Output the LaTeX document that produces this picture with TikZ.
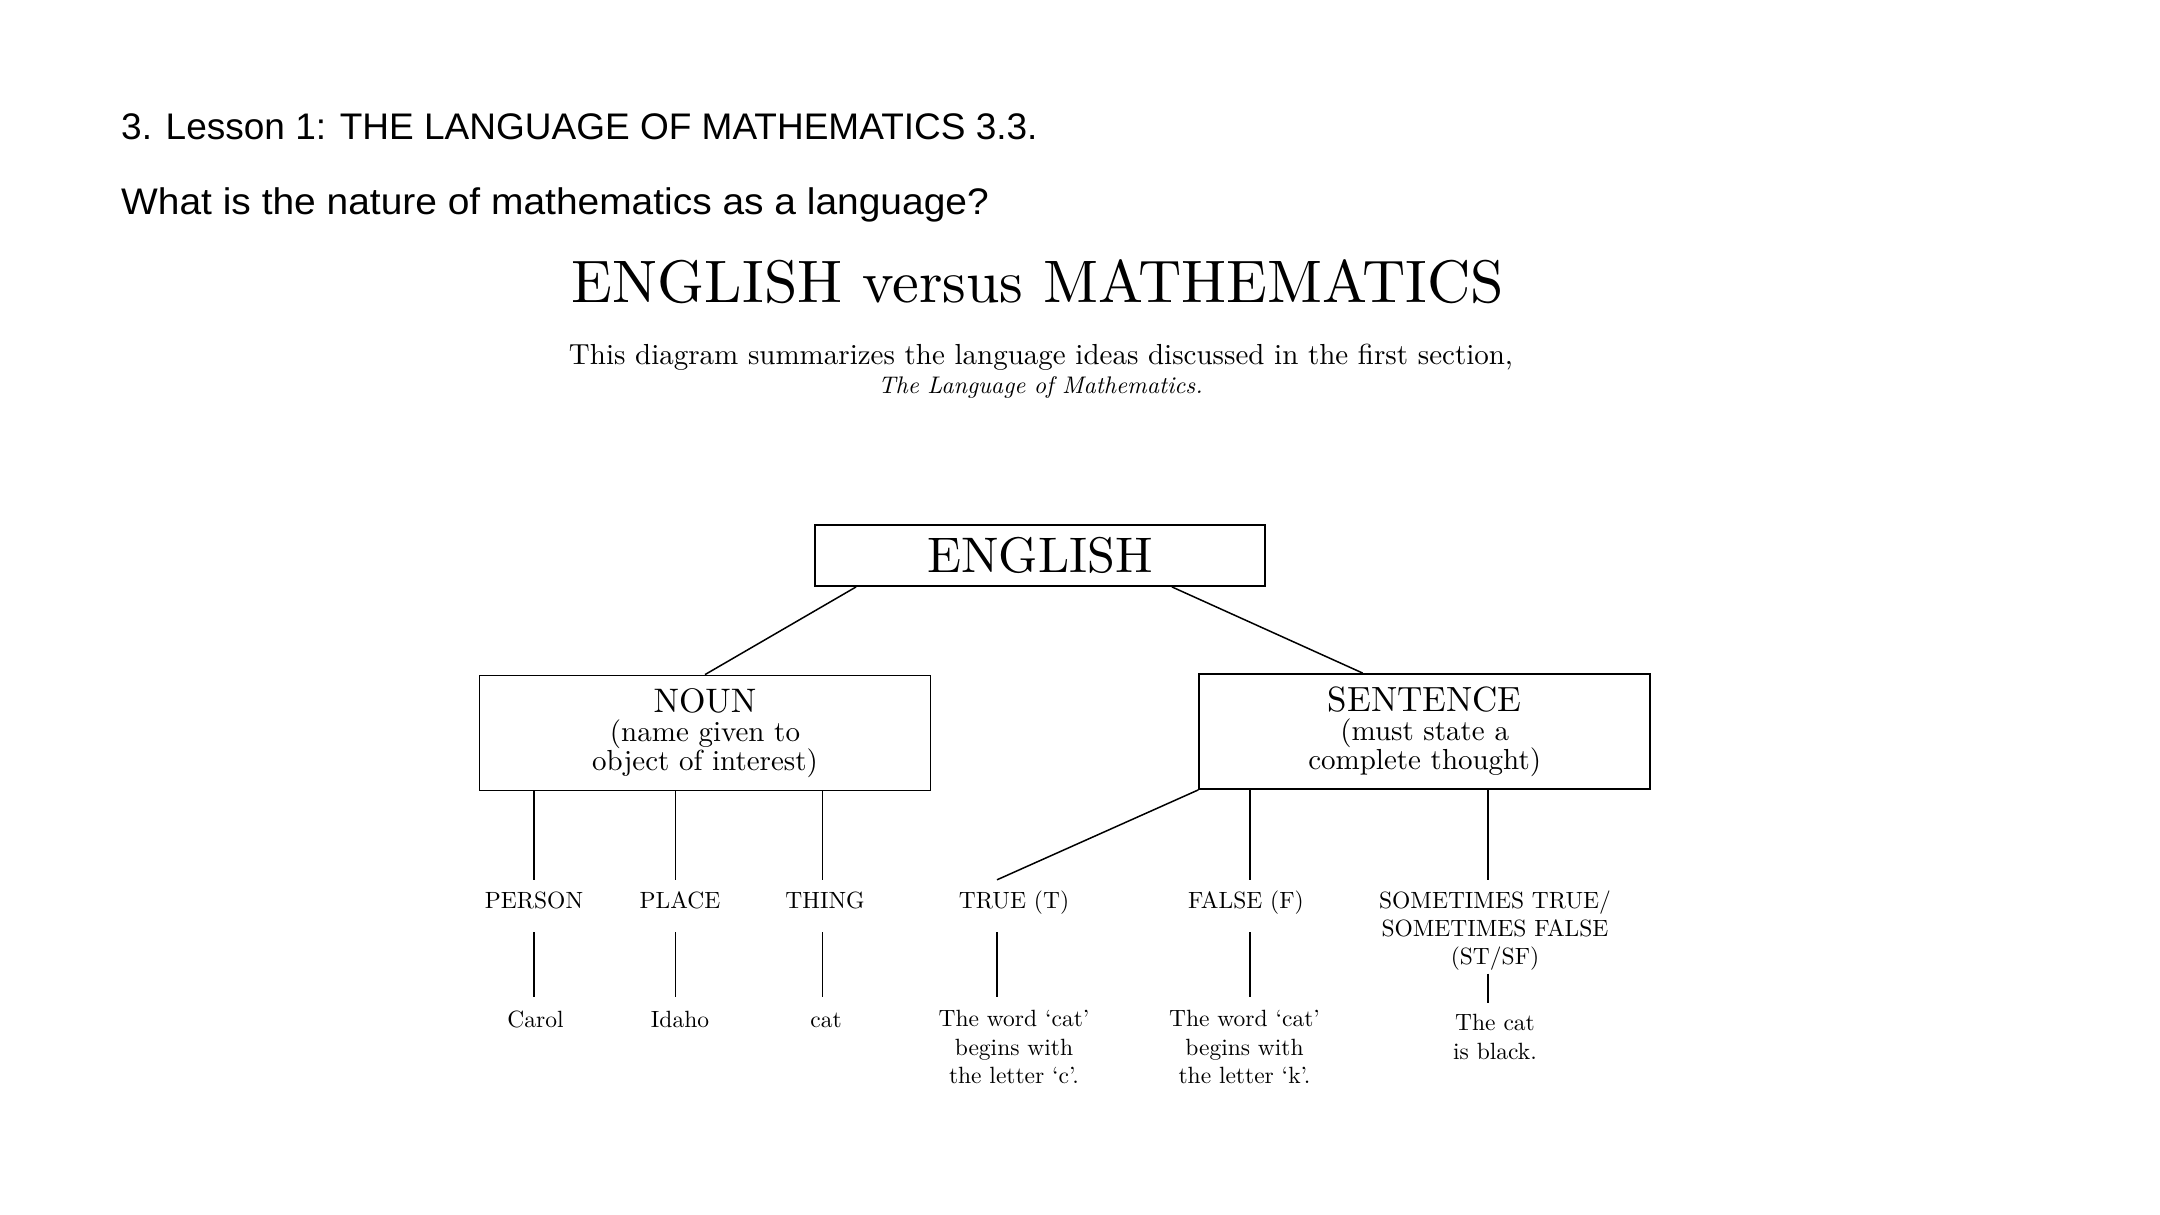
\documentclass[tikz,border=0pt]{standalone}
\usepackage{fontspec}
\setmainfont{lmroman10-regular.otf}[ItalicFont=lmroman10-italic.otf, BoldFont=lmroman10-bold.otf]
\newfontfamily\hdrfont{Liberation Sans}
\newfontfamily\hdrwide{Liberation Sans}[FakeStretch=1.052]
\begin{document}
\tikzset{
  txt/.style={inner sep=0pt},
  box/.style={draw, line width=1.8pt, inner sep=0pt, align=center},
  lab/.style={font=\fontsize{23.5}{28}\selectfont, text height=16.5pt, text depth=12.5pt, inner xsep=0pt, inner ysep=11.5pt, anchor=base},
  labm/.style={font=\fontsize{23.5}{28}\selectfont, align=center, inner xsep=0pt, inner ysep=10.4pt, anchor=north},
  ex/.style={font=\fontsize{23.5}{28.5}\selectfont, align=center, inner xsep=0pt, inner ysep=10pt, anchor=north, execute at begin node=\strut},
  conn/.style={line width=1.5pt},
}
\begin{tikzpicture}[x=1pt,y=-1pt]
\fill[white] (0,0) rectangle (2160,1215);
\useasboundingbox (0,0) rectangle (2160,1215);
% header
\node[txt, anchor=base west, font=\hdrfont\fontsize{37}{40}\selectfont] (h1) at (121,139) {3. Lesson 1: THE LANGUAGE OF MATHEMATICS 3.3.};
\node[txt, anchor=base west, font=\hdrwide\fontsize{37}{40}\selectfont] (h2) at (121,214) {What is the nature of mathematics as a language?};
% title
\node[txt, anchor=base, font=\fontsize{60}{62}\selectfont] (title) at (1038,302) {ENGLISH versus MATHEMATICS};
\node[txt, anchor=base, font=\fontsize{29}{30}\selectfont] (sub1) at (1041,364) {This diagram summarizes the language ideas discussed in the first section,};
\node[txt, anchor=base, font=\fontsize{24}{26}\selectfont\itshape] (sub2) at (1040.5,393) {The Language of Mathematics.};
% boxes
\node[box, minimum width=450pt, minimum height=61pt, font=\fontsize{50}{52}\selectfont] (eng) at (1040,555.5) {ENGLISH};
\node[box, minimum width=451pt, minimum height=115pt, font=\fontsize{29}{29}\selectfont] (noun) at (705,733) {{\fontsize{34}{34}\selectfont NOUN}\\(name given to\\object of interest)};
\node[box, minimum width=451pt, minimum height=115pt, font=\fontsize{29}{29}\selectfont] (sent) at (1424.7,731.5) {{\fontsize{35}{35}\selectfont SENTENCE}\\(must state a\\complete thought)};
% column coordinates
\coordinate (c1) at (534,0);
\coordinate (c2) at (675.5,0);
\coordinate (c3) at (822.5,0);
\coordinate (c4) at (997,0);
\coordinate (c5) at (1250,0);
\coordinate (c6) at (1488,0);
% labels
\node[lab] (person) at (534,908) {PERSON};
\node[lab] (place) at (680,908) {PLACE};
\node[lab] (thing) at (825,908) {THING};
\node[lab] (truel) at (1014,908) {TRUE (T)};
\node[lab] (falsel) at (1246,908) {FALSE (F)};
\node[labm] (stsf) at (1495,880) {SOMETIMES TRUE/\\SOMETIMES FALSE\\(ST/SF)};
% examples
\node[ex] (carol) at (535.5,997) {Carol};
\node[ex] (idaho) at (680,997) {Idaho};
\node[ex] (cat) at (826,997) {cat};
\node[ex, inner ysep=13pt] (trueex) at (1014,997) {The word `cat'\\begins with\\the letter `c'.};
\node[ex, inner ysep=13pt] (falseex) at (1244.5,997) {The word `cat'\\begins with\\the letter `k'.};
\node[ex, inner ysep=11pt] (stsfex) at (1495,1003) {The cat\\is black.};
% connectors
\draw[conn] ([xshift=42pt]eng.south west) -- (noun.north);
\draw[conn] ([xshift=-94pt]eng.south east) -- ([xshift=-62pt]sent.north);
\draw[conn] (c1 |- noun.south) -- (c1 |- person.north);
\draw[conn] (c2 |- noun.south) -- (c2 |- place.north);
\draw[conn] (c3 |- noun.south) -- (c3 |- thing.north);
\draw[conn] (sent.south west) -- (c4 |- truel.north);
\draw[conn] (c5 |- sent.south) -- (c5 |- falsel.north);
\draw[conn] (c6 |- sent.south) -- (c6 |- stsf.north);
\draw[conn] (c1 |- person.south) -- (c1 |- carol.north);
\draw[conn] (c2 |- place.south) -- (c2 |- idaho.north);
\draw[conn] (c3 |- thing.south) -- (c3 |- cat.north);
\draw[conn] (c4 |- truel.south) -- (c4 |- trueex.north);
\draw[conn] (c5 |- falsel.south) -- (c5 |- falseex.north);
\draw[conn, shorten <=-7pt] (c6 |- stsf.south) -- (c6 |- stsfex.north);
\end{tikzpicture}
\end{document}
